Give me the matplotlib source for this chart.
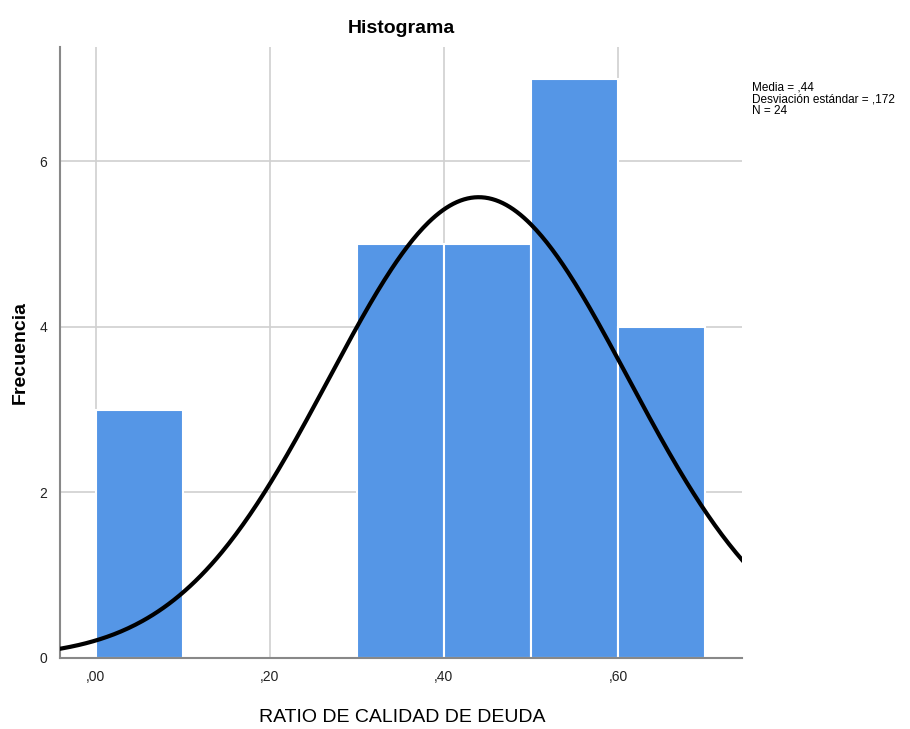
import numpy as np
import matplotlib
matplotlib.use("Agg")
import matplotlib.pyplot as plt
from matplotlib.ticker import FuncFormatter

plt.rcParams["font.family"] = ["Liberation Sans", "DejaVu Sans"]

bin_edges = [0.0, 0.1, 0.2, 0.3, 0.4, 0.5, 0.6, 0.7]
counts = [3, 0, 0, 5, 5, 7, 4]
media = 0.44
desv = 0.172
n = 24

fig = plt.figure(figsize=(9.1, 7.29), dpi=100)
ax = fig.add_axes([0.0659, 0.0974, 0.7495, 0.838])

ax.grid(True, color="#d0d0d0", linewidth=1.2, zorder=0)
ax.set_axisbelow(True)

lefts = bin_edges[:-1]
ax.bar(lefts, counts, width=0.1, align="edge", color="#5596e6",
       edgecolor="white", linewidth=1.5, zorder=2)

# curva normal escalada a frecuencias (N * ancho de clase)
xs = np.linspace(-0.05, 0.76, 400)
ys = n * 0.1 / (desv * np.sqrt(2 * np.pi)) * np.exp(-0.5 * ((xs - media) / desv) ** 2)
ax.plot(xs, ys, color="black", linewidth=3, zorder=3)

ax.set_xlim(-0.041, 0.7425)
ax.set_ylim(0, 7.38)
ax.set_xticks([0.0, 0.2, 0.4, 0.6])
ax.set_yticks([0, 2, 4, 6])
ax.xaxis.set_major_formatter(FuncFormatter(lambda v, p: ("%.2f" % v).replace("0.", ",")))
ax.tick_params(length=0, labelsize=10, colors="#222222", pad=9)

for s in ["top", "right"]:
    ax.spines[s].set_visible(False)
for s in ["left", "bottom"]:
    ax.spines[s].set_color("#888888")
    ax.spines[s].set_linewidth(1.5)

ax.set_title("Histograma", fontsize=14, fontweight="bold", pad=10)
fig.text(0.442, 0.004, "RATIO DE CALIDAD DE DEUDA", fontsize=14, ha="center", va="bottom")
fig.text(0.022, 0.517, "Frecuencia", fontsize=14, fontweight="bold", rotation=90,
         ha="center", va="center")

fig.text(0.826, 0.888, "Media = ,44\nDesviación estándar = ,172\nN = 24",
         fontsize=8.5, va="top", ha="left", linespacing=0.95)

fig.savefig("out.png", dpi=100)
